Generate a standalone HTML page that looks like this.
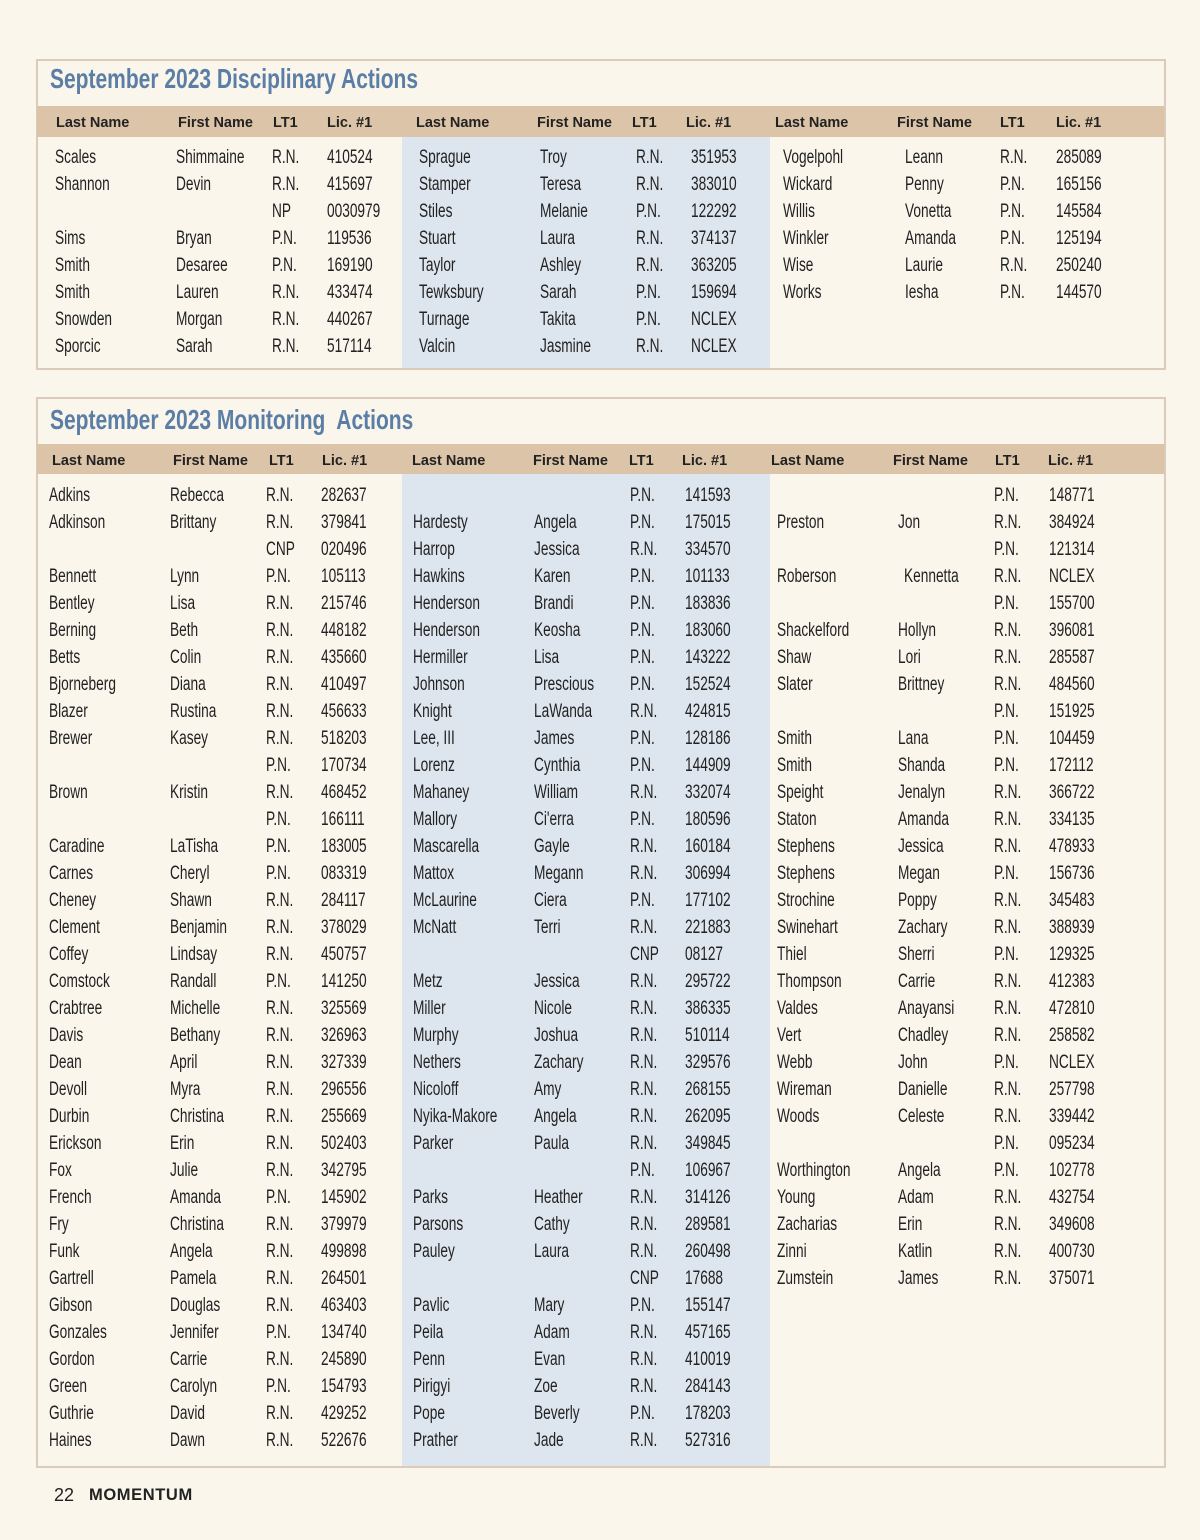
<!DOCTYPE html>
<html><head><meta charset="utf-8"><style>
body{margin:0;width:1200px;height:1540px;background:#faf6ec;position:relative;overflow:hidden;font-family:"Liberation Sans",sans-serif;color:#222}
.box{position:absolute;left:36px;width:1130px;border:2px solid #dccbbb;box-sizing:border-box}
.band{position:absolute;left:37px;width:1127px;background:#dcc4a8}
.blue{position:absolute;left:402px;width:368px;background:#dde5ee}
.title{position:absolute;left:50px;font-family:"Liberation Sans",sans-serif;font-weight:bold;font-size:28px;color:#5a7ea6;transform:scaleX(0.75);transform-origin:left;white-space:nowrap}
.h{position:absolute;font-family:"Liberation Sans",sans-serif;font-weight:bold;font-size:14.5px;color:#222;white-space:nowrap}
.r{position:absolute;left:0;width:1200px;height:20px;font-size:19px;line-height:20px}
.r span{position:absolute;white-space:nowrap;transform:scaleX(0.72);transform-origin:left}
</style></head><body>
<div class="box" style="top:59px;height:311px"></div>
<div class="title" style="top:63px">September 2023 Disciplinary Actions</div>
<div class="band" style="top:106px;height:31px"></div>
<div class="blue" style="top:137px;height:231px"></div>
<div class="h" style="top:115px;left:56px">Last Name</div><div class="h" style="top:115px;left:178px">First Name</div><div class="h" style="top:115px;left:273px">LT1</div><div class="h" style="top:115px;left:327px">Lic. #1</div>
<div class="h" style="top:115px;left:416px">Last Name</div><div class="h" style="top:115px;left:537px">First Name</div><div class="h" style="top:115px;left:632px">LT1</div><div class="h" style="top:115px;left:686px">Lic. #1</div>
<div class="h" style="top:115px;left:775px">Last Name</div><div class="h" style="top:115px;left:897px">First Name</div><div class="h" style="top:115px;left:1000px">LT1</div><div class="h" style="top:115px;left:1056px">Lic. #1</div>
<style>
.d1 .a{left:55px}.d1 .b{left:176px}.d1 .c{left:272px}.d1 .d{left:327px}.d1 .e{left:419px}.d1 .f{left:540px}.d1 .g{left:636px}.d1 .i{left:691px}.d1 .j{left:783px}.d1 .k{left:905px}.d1 .l{left:1000px}.d1 .m{left:1056px}
.d2 .a{left:49px}.d2 .b{left:170px}.d2 .c{left:266px}.d2 .d{left:321px}.d2 .e{left:413px}.d2 .f{left:534px}.d2 .g{left:630px}.d2 .i{left:685px}.d2 .j{left:777px}.d2 .k{left:898px}.d2 .l{left:994px}.d2 .m{left:1049px}
</style>
<div class="d1">
<div class="r" style="top:148px"><span class="a">Scales</span><span class="b">Shimmaine</span><span class="c">R.N.</span><span class="d">410524</span><span class="e">Sprague</span><span class="f">Troy</span><span class="g">R.N.</span><span class="i">351953</span><span class="j">Vogelpohl</span><span class="k">Leann</span><span class="l">R.N.</span><span class="m">285089</span></div>
<div class="r" style="top:175px"><span class="a">Shannon</span><span class="b">Devin</span><span class="c">R.N.</span><span class="d">415697</span><span class="e">Stamper</span><span class="f">Teresa</span><span class="g">R.N.</span><span class="i">383010</span><span class="j">Wickard</span><span class="k">Penny</span><span class="l">P.N.</span><span class="m">165156</span></div>
<div class="r" style="top:202px"><span class="c">NP</span><span class="d">0030979</span><span class="e">Stiles</span><span class="f">Melanie</span><span class="g">P.N.</span><span class="i">122292</span><span class="j">Willis</span><span class="k">Vonetta</span><span class="l">P.N.</span><span class="m">145584</span></div>
<div class="r" style="top:229px"><span class="a">Sims</span><span class="b">Bryan</span><span class="c">P.N.</span><span class="d">119536</span><span class="e">Stuart</span><span class="f">Laura</span><span class="g">R.N.</span><span class="i">374137</span><span class="j">Winkler</span><span class="k">Amanda</span><span class="l">P.N.</span><span class="m">125194</span></div>
<div class="r" style="top:256px"><span class="a">Smith</span><span class="b">Desaree</span><span class="c">P.N.</span><span class="d">169190</span><span class="e">Taylor</span><span class="f">Ashley</span><span class="g">R.N.</span><span class="i">363205</span><span class="j">Wise</span><span class="k">Laurie</span><span class="l">R.N.</span><span class="m">250240</span></div>
<div class="r" style="top:283px"><span class="a">Smith</span><span class="b">Lauren</span><span class="c">R.N.</span><span class="d">433474</span><span class="e">Tewksbury</span><span class="f">Sarah</span><span class="g">P.N.</span><span class="i">159694</span><span class="j">Works</span><span class="k">Iesha</span><span class="l">P.N.</span><span class="m">144570</span></div>
<div class="r" style="top:310px"><span class="a">Snowden</span><span class="b">Morgan</span><span class="c">R.N.</span><span class="d">440267</span><span class="e">Turnage</span><span class="f">Takita</span><span class="g">P.N.</span><span class="i">NCLEX</span></div>
<div class="r" style="top:337px"><span class="a">Sporcic</span><span class="b">Sarah</span><span class="c">R.N.</span><span class="d">517114</span><span class="e">Valcin</span><span class="f">Jasmine</span><span class="g">R.N.</span><span class="i">NCLEX</span></div>
</div>

<div class="box" style="top:397px;height:1071px"></div>
<div class="title" style="top:404px">September 2023 Monitoring&nbsp; Actions</div>
<div class="band" style="top:444px;height:30px"></div>
<div class="blue" style="top:474px;height:992px"></div>
<div class="h" style="top:453px;left:52px">Last Name</div><div class="h" style="top:453px;left:173px">First Name</div><div class="h" style="top:453px;left:269px">LT1</div><div class="h" style="top:453px;left:322px">Lic. #1</div>
<div class="h" style="top:453px;left:412px">Last Name</div><div class="h" style="top:453px;left:533px">First Name</div><div class="h" style="top:453px;left:629px">LT1</div><div class="h" style="top:453px;left:682px">Lic. #1</div>
<div class="h" style="top:453px;left:771px">Last Name</div><div class="h" style="top:453px;left:893px">First Name</div><div class="h" style="top:453px;left:995px">LT1</div><div class="h" style="top:453px;left:1048px">Lic. #1</div>
<div class="d2">
<div class="r" style="top:486px"><span class="a">Adkins</span><span class="b">Rebecca</span><span class="c">R.N.</span><span class="d">282637</span><span class="g">P.N.</span><span class="i">141593</span><span class="l">P.N.</span><span class="m">148771</span></div>
<div class="r" style="top:513px"><span class="a">Adkinson</span><span class="b">Brittany</span><span class="c">R.N.</span><span class="d">379841</span><span class="e">Hardesty</span><span class="f">Angela</span><span class="g">P.N.</span><span class="i">175015</span><span class="j">Preston</span><span class="k">Jon</span><span class="l">R.N.</span><span class="m">384924</span></div>
<div class="r" style="top:540px"><span class="c">CNP</span><span class="d">020496</span><span class="e">Harrop</span><span class="f">Jessica</span><span class="g">R.N.</span><span class="i">334570</span><span class="l">P.N.</span><span class="m">121314</span></div>
<div class="r" style="top:567px"><span class="a">Bennett</span><span class="b">Lynn</span><span class="c">P.N.</span><span class="d">105113</span><span class="e">Hawkins</span><span class="f">Karen</span><span class="g">P.N.</span><span class="i">101133</span><span class="j">Roberson</span><span class="k" style="left:904px">Kennetta</span><span class="l">R.N.</span><span class="m">NCLEX</span></div>
<div class="r" style="top:594px"><span class="a">Bentley</span><span class="b">Lisa</span><span class="c">R.N.</span><span class="d">215746</span><span class="e">Henderson</span><span class="f">Brandi</span><span class="g">P.N.</span><span class="i">183836</span><span class="l">P.N.</span><span class="m">155700</span></div>
<div class="r" style="top:621px"><span class="a">Berning</span><span class="b">Beth</span><span class="c">R.N.</span><span class="d">448182</span><span class="e">Henderson</span><span class="f">Keosha</span><span class="g">P.N.</span><span class="i">183060</span><span class="j">Shackelford</span><span class="k">Hollyn</span><span class="l">R.N.</span><span class="m">396081</span></div>
<div class="r" style="top:648px"><span class="a">Betts</span><span class="b">Colin</span><span class="c">R.N.</span><span class="d">435660</span><span class="e">Hermiller</span><span class="f">Lisa</span><span class="g">P.N.</span><span class="i">143222</span><span class="j">Shaw</span><span class="k">Lori</span><span class="l">R.N.</span><span class="m">285587</span></div>
<div class="r" style="top:675px"><span class="a">Bjorneberg</span><span class="b">Diana</span><span class="c">R.N.</span><span class="d">410497</span><span class="e">Johnson</span><span class="f">Prescious</span><span class="g">P.N.</span><span class="i">152524</span><span class="j">Slater</span><span class="k">Brittney</span><span class="l">R.N.</span><span class="m">484560</span></div>
<div class="r" style="top:702px"><span class="a">Blazer</span><span class="b">Rustina</span><span class="c">R.N.</span><span class="d">456633</span><span class="e">Knight</span><span class="f">LaWanda</span><span class="g">R.N.</span><span class="i">424815</span><span class="l">P.N.</span><span class="m">151925</span></div>
<div class="r" style="top:729px"><span class="a">Brewer</span><span class="b">Kasey</span><span class="c">R.N.</span><span class="d">518203</span><span class="e">Lee, III</span><span class="f">James</span><span class="g">P.N.</span><span class="i">128186</span><span class="j">Smith</span><span class="k">Lana</span><span class="l">P.N.</span><span class="m">104459</span></div>
<div class="r" style="top:756px"><span class="c">P.N.</span><span class="d">170734</span><span class="e">Lorenz</span><span class="f">Cynthia</span><span class="g">P.N.</span><span class="i">144909</span><span class="j">Smith</span><span class="k">Shanda</span><span class="l">P.N.</span><span class="m">172112</span></div>
<div class="r" style="top:783px"><span class="a">Brown</span><span class="b">Kristin</span><span class="c">R.N.</span><span class="d">468452</span><span class="e">Mahaney</span><span class="f">William</span><span class="g">R.N.</span><span class="i">332074</span><span class="j">Speight</span><span class="k">Jenalyn</span><span class="l">R.N.</span><span class="m">366722</span></div>
<div class="r" style="top:810px"><span class="c">P.N.</span><span class="d">166111</span><span class="e">Mallory</span><span class="f">Ci'erra</span><span class="g">P.N.</span><span class="i">180596</span><span class="j">Staton</span><span class="k">Amanda</span><span class="l">R.N.</span><span class="m">334135</span></div>
<div class="r" style="top:837px"><span class="a">Caradine</span><span class="b">LaTisha</span><span class="c">P.N.</span><span class="d">183005</span><span class="e">Mascarella</span><span class="f">Gayle</span><span class="g">R.N.</span><span class="i">160184</span><span class="j">Stephens</span><span class="k">Jessica</span><span class="l">R.N.</span><span class="m">478933</span></div>
<div class="r" style="top:864px"><span class="a">Carnes</span><span class="b">Cheryl</span><span class="c">P.N.</span><span class="d">083319</span><span class="e">Mattox</span><span class="f">Megann</span><span class="g">R.N.</span><span class="i">306994</span><span class="j">Stephens</span><span class="k">Megan</span><span class="l">P.N.</span><span class="m">156736</span></div>
<div class="r" style="top:891px"><span class="a">Cheney</span><span class="b">Shawn</span><span class="c">R.N.</span><span class="d">284117</span><span class="e">McLaurine</span><span class="f">Ciera</span><span class="g">P.N.</span><span class="i">177102</span><span class="j">Strochine</span><span class="k">Poppy</span><span class="l">R.N.</span><span class="m">345483</span></div>
<div class="r" style="top:918px"><span class="a">Clement</span><span class="b">Benjamin</span><span class="c">R.N.</span><span class="d">378029</span><span class="e">McNatt</span><span class="f">Terri</span><span class="g">R.N.</span><span class="i">221883</span><span class="j">Swinehart</span><span class="k">Zachary</span><span class="l">R.N.</span><span class="m">388939</span></div>
<div class="r" style="top:945px"><span class="a">Coffey</span><span class="b">Lindsay</span><span class="c">R.N.</span><span class="d">450757</span><span class="g">CNP</span><span class="i">08127</span><span class="j">Thiel</span><span class="k">Sherri</span><span class="l">P.N.</span><span class="m">129325</span></div>
<div class="r" style="top:972px"><span class="a">Comstock</span><span class="b">Randall</span><span class="c">P.N.</span><span class="d">141250</span><span class="e">Metz</span><span class="f">Jessica</span><span class="g">R.N.</span><span class="i">295722</span><span class="j">Thompson</span><span class="k">Carrie</span><span class="l">R.N.</span><span class="m">412383</span></div>
<div class="r" style="top:999px"><span class="a">Crabtree</span><span class="b">Michelle</span><span class="c">R.N.</span><span class="d">325569</span><span class="e">Miller</span><span class="f">Nicole</span><span class="g">R.N.</span><span class="i">386335</span><span class="j">Valdes</span><span class="k">Anayansi</span><span class="l">R.N.</span><span class="m">472810</span></div>
<div class="r" style="top:1026px"><span class="a">Davis</span><span class="b">Bethany</span><span class="c">R.N.</span><span class="d">326963</span><span class="e">Murphy</span><span class="f">Joshua</span><span class="g">R.N.</span><span class="i">510114</span><span class="j">Vert</span><span class="k">Chadley</span><span class="l">R.N.</span><span class="m">258582</span></div>
<div class="r" style="top:1053px"><span class="a">Dean</span><span class="b">April</span><span class="c">R.N.</span><span class="d">327339</span><span class="e">Nethers</span><span class="f">Zachary</span><span class="g">R.N.</span><span class="i">329576</span><span class="j">Webb</span><span class="k">John</span><span class="l">P.N.</span><span class="m">NCLEX</span></div>
<div class="r" style="top:1080px"><span class="a">Devoll</span><span class="b">Myra</span><span class="c">R.N.</span><span class="d">296556</span><span class="e">Nicoloff</span><span class="f">Amy</span><span class="g">R.N.</span><span class="i">268155</span><span class="j">Wireman</span><span class="k">Danielle</span><span class="l">R.N.</span><span class="m">257798</span></div>
<div class="r" style="top:1107px"><span class="a">Durbin</span><span class="b">Christina</span><span class="c">R.N.</span><span class="d">255669</span><span class="e">Nyika-Makore</span><span class="f">Angela</span><span class="g">R.N.</span><span class="i">262095</span><span class="j">Woods</span><span class="k">Celeste</span><span class="l">R.N.</span><span class="m">339442</span></div>
<div class="r" style="top:1134px"><span class="a">Erickson</span><span class="b">Erin</span><span class="c">R.N.</span><span class="d">502403</span><span class="e">Parker</span><span class="f">Paula</span><span class="g">R.N.</span><span class="i">349845</span><span class="l">P.N.</span><span class="m">095234</span></div>
<div class="r" style="top:1161px"><span class="a">Fox</span><span class="b">Julie</span><span class="c">R.N.</span><span class="d">342795</span><span class="g">P.N.</span><span class="i">106967</span><span class="j">Worthington</span><span class="k">Angela</span><span class="l">P.N.</span><span class="m">102778</span></div>
<div class="r" style="top:1188px"><span class="a">French</span><span class="b">Amanda</span><span class="c">P.N.</span><span class="d">145902</span><span class="e">Parks</span><span class="f">Heather</span><span class="g">R.N.</span><span class="i">314126</span><span class="j">Young</span><span class="k">Adam</span><span class="l">R.N.</span><span class="m">432754</span></div>
<div class="r" style="top:1215px"><span class="a">Fry</span><span class="b">Christina</span><span class="c">R.N.</span><span class="d">379979</span><span class="e">Parsons</span><span class="f">Cathy</span><span class="g">R.N.</span><span class="i">289581</span><span class="j">Zacharias</span><span class="k">Erin</span><span class="l">R.N.</span><span class="m">349608</span></div>
<div class="r" style="top:1242px"><span class="a">Funk</span><span class="b">Angela</span><span class="c">R.N.</span><span class="d">499898</span><span class="e">Pauley</span><span class="f">Laura</span><span class="g">R.N.</span><span class="i">260498</span><span class="j">Zinni</span><span class="k">Katlin</span><span class="l">R.N.</span><span class="m">400730</span></div>
<div class="r" style="top:1269px"><span class="a">Gartrell</span><span class="b">Pamela</span><span class="c">R.N.</span><span class="d">264501</span><span class="g">CNP</span><span class="i">17688</span><span class="j">Zumstein</span><span class="k">James</span><span class="l">R.N.</span><span class="m">375071</span></div>
<div class="r" style="top:1296px"><span class="a">Gibson</span><span class="b">Douglas</span><span class="c">R.N.</span><span class="d">463403</span><span class="e">Pavlic</span><span class="f">Mary</span><span class="g">P.N.</span><span class="i">155147</span></div>
<div class="r" style="top:1323px"><span class="a">Gonzales</span><span class="b">Jennifer</span><span class="c">P.N.</span><span class="d">134740</span><span class="e">Peila</span><span class="f">Adam</span><span class="g">R.N.</span><span class="i">457165</span></div>
<div class="r" style="top:1350px"><span class="a">Gordon</span><span class="b">Carrie</span><span class="c">R.N.</span><span class="d">245890</span><span class="e">Penn</span><span class="f">Evan</span><span class="g">R.N.</span><span class="i">410019</span></div>
<div class="r" style="top:1377px"><span class="a">Green</span><span class="b">Carolyn</span><span class="c">P.N.</span><span class="d">154793</span><span class="e">Pirigyi</span><span class="f">Zoe</span><span class="g">R.N.</span><span class="i">284143</span></div>
<div class="r" style="top:1404px"><span class="a">Guthrie</span><span class="b">David</span><span class="c">R.N.</span><span class="d">429252</span><span class="e">Pope</span><span class="f">Beverly</span><span class="g">P.N.</span><span class="i">178203</span></div>
<div class="r" style="top:1431px"><span class="a">Haines</span><span class="b">Dawn</span><span class="c">R.N.</span><span class="d">522676</span><span class="e">Prather</span><span class="f">Jade</span><span class="g">R.N.</span><span class="i">527316</span></div>
</div>
<div style="position:absolute;left:54px;top:1485px;font-family:'Liberation Sans',sans-serif;font-size:18px">22</div>
<div style="position:absolute;left:89px;top:1486px;font-family:'Liberation Sans',sans-serif;font-size:16.5px;font-weight:bold;letter-spacing:0.6px">MOMENTUM</div>
</body></html>
